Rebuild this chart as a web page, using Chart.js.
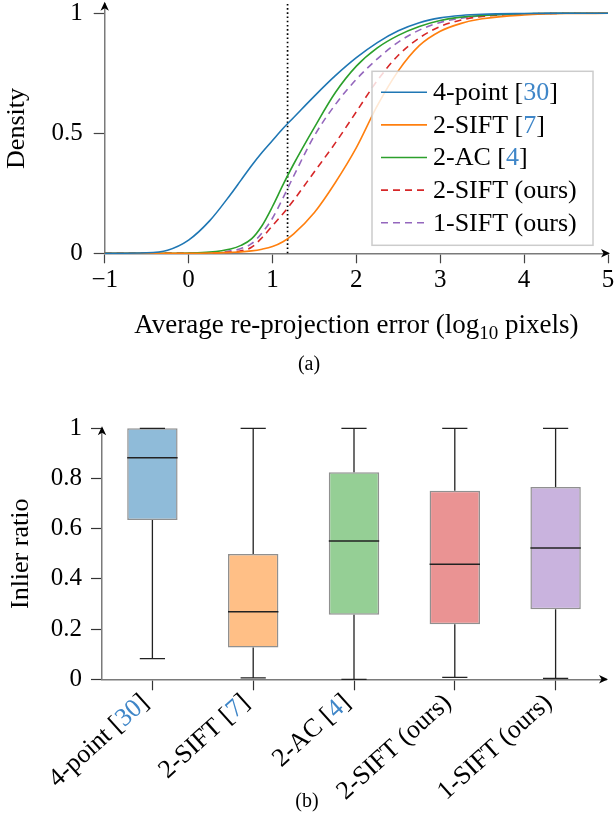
<!DOCTYPE html>
<html><head><meta charset="utf-8">
<script src="https://cdn.jsdelivr.net/npm/chart.js@4.4.1/dist/chart.umd.min.js"></script>
<style>
html,body{margin:0;padding:0;background:#fff;}
#wrap{position:relative;width:614px;height:828px;overflow:hidden;}
#c1{position:absolute;left:0;top:0;}
#c2{position:absolute;left:0;top:400px;}
</style></head><body>
<div id="wrap">
<canvas id="c1" width="614" height="380"></canvas>
<canvas id="c2" width="614" height="428"></canvas>
</div>
<script>
// ---------- data ----------
const methods = ['4-point [30]', '2-SIFT [7]', '2-AC [4]', '2-SIFT (ours)', '1-SIFT (ours)'];

// (a) cumulative density of average re-projection error (log10 pixels)
const errorX      = [-1, -0.5, -0.25, 0, 0.25, 0.5, 0.625, 0.75, 0.875, 1, 1.125, 1.25, 1.5, 1.75, 2, 2.25, 2.5, 2.75, 3, 3.25, 3.5, 4, 4.5, 5];
const fourPoint   = [0, 0.002, 0.013, 0.055, 0.135, 0.245, 0.305, 0.365, 0.42, 0.47, 0.52, 0.565, 0.655, 0.74, 0.815, 0.878, 0.927, 0.961, 0.981, 0.991, 0.996, 0.999, 1, 1];
const twoSift7    = [0, 0, 0, 0, 0.001, 0.004, 0.006, 0.01, 0.017, 0.028, 0.048, 0.08, 0.17, 0.295, 0.44, 0.615, 0.76, 0.865, 0.925, 0.958, 0.977, 0.993, 0.999, 1];
const twoAC       = [0, 0, 0, 0.001, 0.005, 0.018, 0.033, 0.06, 0.115, 0.195, 0.285, 0.37, 0.525, 0.67, 0.78, 0.856, 0.908, 0.945, 0.97, 0.984, 0.991, 0.998, 1, 1];
const twoSiftOurs = [0, 0, 0, 0, 0.001, 0.005, 0.01, 0.025, 0.065, 0.115, 0.165, 0.22, 0.34, 0.46, 0.59, 0.72, 0.825, 0.897, 0.945, 0.972, 0.987, 0.997, 1, 1];
const oneSiftOurs = [0, 0, 0, 0, 0.002, 0.01, 0.02, 0.04, 0.085, 0.146, 0.23, 0.32, 0.49, 0.62, 0.725, 0.81, 0.88, 0.93, 0.962, 0.98, 0.99, 0.998, 1, 1];
const thresholdX  = 1.18;
const errorTicks  = [-1, 0, 1, 2, 3, 4, 5];
const densityTicks = [0, 0.5, 1];

// (b) inlier ratio box plot
const boxMin    = [0.082, 0.006, 0.0, 0.008, 0.004];
const boxQ1     = [0.635, 0.127, 0.257, 0.219, 0.279];
const boxMedian = [0.883, 0.269, 0.551, 0.458, 0.523];
const boxQ3     = [1.0, 0.499, 0.825, 0.751, 0.766];
const boxMax    = [1, 1, 1, 1, 1];
const ratioTicks = [0, 0.2, 0.4, 0.6, 0.8, 1];

// ---------- styles ----------
const FONT = "'Liberation Serif','Times New Roman',serif";
const CITE = '#3f86c8';
const lineColors = ['#1f77b4', '#ff7f0e', '#2ca02c', '#d62728', '#9467bd'];
const lineDashes = [[], [], [], [7, 5], [7, 5]];
const boxFill = ['#8fbbd9', '#ffbf86', '#95cf95', '#ea9393', '#c9b3de'];
const AXIS = '#7a7a7a';

function mixedSegments(text) {
  // "[30]" -> citation number drawn in link colour
  return text.split(/(\d+)(?=\])/).map((t, i) => ({t, c: i % 2 ? CITE : '#000'}));
}
function drawMixed(ctx, text, x, y, align) {
  const segs = mixedSegments(text);
  const total = segs.reduce((s, g) => s + ctx.measureText(g.t).width, 0);
  let cx = align === 'right' ? x - total : align === 'center' ? x - total / 2 : x;
  ctx.textAlign = 'left';
  segs.forEach(g => { ctx.fillStyle = g.c; ctx.fillText(g.t, cx, y); cx += ctx.measureText(g.t).width; });
}
function arrowHead(ctx, x, y, dir) {
  ctx.save();
  ctx.translate(x, y);
  if (dir === 'up') ctx.rotate(-Math.PI / 2);
  ctx.beginPath();
  ctx.moveTo(2, 0); ctx.lineTo(-7, -4.2); ctx.lineTo(-4.5, 0); ctx.lineTo(-7, 4.2); ctx.closePath();
  ctx.fillStyle = '#000'; ctx.fill();
  ctx.restore();
}
const tickFont = {family: FONT, size: 25};

// ---------- chart (a) ----------
const seriesValues = [fourPoint, twoSift7, twoAC, twoSiftOurs, oneSiftOurs];

const decorA = {
  id: 'decorA',
  beforeDatasetsDraw(chart) {
    const {ctx, scales: {x, y}} = chart;
    const px = x.getPixelForValue(thresholdX);
    ctx.save();
    ctx.strokeStyle = '#000'; ctx.lineWidth = 1.7; ctx.setLineDash([1.6, 2.6]);
    ctx.beginPath(); ctx.moveTo(px, y.getPixelForValue(0)); ctx.lineTo(px, chart.chartArea.top); ctx.stroke();
    ctx.restore();
  },
  afterDraw(chart) {
    const {ctx, chartArea: ca} = chart;
    ctx.save();
    arrowHead(ctx, ca.right, ca.bottom, 'right');
    arrowHead(ctx, ca.left, ca.top, 'up');
    // legend
    const lw = 221, lh = 174;
    const lx = ca.right - 15 - lw, ly = ca.bottom - 8 - lh;
    ctx.fillStyle = 'rgba(255,255,255,0.82)';
    ctx.fillRect(lx, ly, lw, lh);
    ctx.strokeStyle = '#cccccc'; ctx.lineWidth = 1.5;
    ctx.strokeRect(lx, ly, lw, lh);
    ctx.font = `26px ${FONT}`;
    ctx.textBaseline = 'middle';
    methods.forEach((m, i) => {
      const cy = ly + 21 + i * 32.6;
      ctx.strokeStyle = lineColors[i]; ctx.lineWidth = 1.6; ctx.setLineDash(lineDashes[i]);
      ctx.beginPath(); ctx.moveTo(lx + 9, cy); ctx.lineTo(lx + 55, cy); ctx.stroke();
      ctx.setLineDash([]);
      drawMixed(ctx, m, lx + 61, cy + 1, 'left');
    });
    // x-axis title with subscript
    const cx = (ca.left + ca.right) / 2, by = 333;
    const parts = [['Average re-projection error (log', 27, 0], ['10', 19, 6], [' pixels)', 27, 0]];
    let tw = 0;
    parts.forEach(p => { ctx.font = `${p[1]}px ${FONT}`; tw += ctx.measureText(p[0]).width; });
    let xx = cx - tw / 2;
    ctx.textBaseline = 'alphabetic'; ctx.textAlign = 'left'; ctx.fillStyle = '#000';
    parts.forEach(p => { ctx.font = `${p[1]}px ${FONT}`; ctx.fillText(p[0], xx, by + p[2]); xx += ctx.measureText(p[0]).width; });
    ctx.font = `20px ${FONT}`; ctx.textAlign = 'center';
    ctx.fillText('(a)', 309, 370);
    ctx.restore();
  }
};

new Chart(document.getElementById('c1'), {
  type: 'line',
  data: {
    datasets: methods.map((name, i) => ({
      label: name,
      data: errorX.map((xv, j) => ({x: xv, y: seriesValues[i][j]})),
      borderColor: lineColors[i],
      borderWidth: 1.6,
      borderDash: lineDashes[i],
      pointRadius: 0,
      fill: false,
      cubicInterpolationMode: 'monotone',
      clip: 4
    }))
  },
  options: {
    responsive: false, animation: false, events: [],
    layout: {padding: {top: 3.7, right: 6, left: 0, bottom: 0}},
    plugins: {legend: {display: false}, tooltip: {enabled: false}},
    scales: {
      x: {
        type: 'linear', min: -1, max: 5,
        afterBuildTicks: s => { s.ticks = errorTicks.map(v => ({value: v})); },
        ticks: {font: tickFont, color: '#000', padding: 2, maxRotation: 0,
                callback: v => (v < 0 ? '\u2212' + Math.abs(v) : String(v))},
        grid: {drawOnChartArea: false, drawTicks: true, tickLength: 10, tickColor: '#444', tickWidth: 1.2},
        border: {color: AXIS, width: 1.5},
        afterFit: s => { s.height = 380 - 253.3; s.paddingLeft = 0; s.paddingRight = 0; }
      },
      y: {
        min: 0, max: 1.04,
        afterBuildTicks: s => { s.ticks = densityTicks.map(v => ({value: v})); },
        ticks: {font: tickFont, color: '#000', padding: 11, callback: v => String(v)},
        grid: {drawOnChartArea: false, drawTicks: true, tickLength: 11, tickColor: '#444', tickWidth: 1.2},
        border: {color: AXIS, width: 1.5},
        title: {display: true, text: 'Density', color: '#000', font: {family: FONT, size: 26}, padding: {top: 2, bottom: 0}},
        afterFit: s => { s.width = 104.7; s.paddingTop = 0; s.paddingBottom = 0; }
      }
    }
  },
  plugins: [decorA]
});

// ---------- chart (b) ----------
const decorB = {
  id: 'decorB',
  afterDatasetsDraw(chart) {
    const {ctx, scales: {x, y}} = chart;
    const step = x.getPixelForValue(1) - x.getPixelForValue(0);
    const half = step * 0.25, cap = step * 0.125;
    ctx.save();
    methods.forEach((m, i) => {
      const cx = x.getPixelForValue(i);
      ctx.strokeStyle = '#222'; ctx.lineWidth = 1.3;
      ctx.beginPath();
      ctx.moveTo(cx, y.getPixelForValue(boxQ3[i])); ctx.lineTo(cx, y.getPixelForValue(boxMax[i]));
      ctx.moveTo(cx, y.getPixelForValue(boxQ1[i])); ctx.lineTo(cx, y.getPixelForValue(boxMin[i]));
      ctx.moveTo(cx - cap, y.getPixelForValue(boxMax[i])); ctx.lineTo(cx + cap, y.getPixelForValue(boxMax[i]));
      ctx.moveTo(cx - cap, y.getPixelForValue(boxMin[i])); ctx.lineTo(cx + cap, y.getPixelForValue(boxMin[i]));
      ctx.stroke();
      ctx.strokeStyle = '#222'; ctx.lineWidth = 1.5;
      ctx.beginPath();
      ctx.moveTo(cx - half, y.getPixelForValue(boxMedian[i])); ctx.lineTo(cx + half, y.getPixelForValue(boxMedian[i]));
      ctx.stroke();
    });
    ctx.restore();
  },
  afterDraw(chart) {
    const {ctx, chartArea: ca, scales: {x}} = chart;
    ctx.save();
    arrowHead(ctx, ca.right, ca.bottom, 'right');
    arrowHead(ctx, ca.left, ca.top, 'up');
    ctx.font = `26px ${FONT}`;
    ctx.textBaseline = 'middle';
    const ang = -42 * Math.PI / 180;
    methods.forEach((m, i) => {
      const tx = x.getPixelForValue(i);
      ctx.save();
      ctx.translate(tx - 7, ca.bottom + 20);
      ctx.rotate(ang);
      drawMixed(ctx, m, 0, 0, 'right');
      ctx.restore();
    });
    ctx.font = `20px ${FONT}`; ctx.textAlign = 'center'; ctx.textBaseline = 'alphabetic'; ctx.fillStyle = '#000';
    ctx.fillText('(b)', 307, 407);
    ctx.restore();
  }
};

new Chart(document.getElementById('c2'), {
  type: 'bar',
  data: {
    labels: methods,
    datasets: [{
      data: boxQ1.map((q, i) => [q, boxQ3[i]]),
      backgroundColor: boxFill,
      borderColor: 'rgba(125,125,125,0.85)',
      borderWidth: 1.5,
      borderSkipped: false,
      barPercentage: 0.5,
      categoryPercentage: 1,
      clip: false
    }]
  },
  options: {
    responsive: false, animation: false, events: [],
    layout: {padding: {top: 28.3, right: 8, left: 0, bottom: 0}},
    plugins: {legend: {display: false}, tooltip: {enabled: false}},
    scales: {
      x: {
        offset: true,
        ticks: {font: tickFont, color: 'rgba(0,0,0,0)', maxRotation: 0, minRotation: 0, autoSkip: false},
        grid: {offset: false, drawOnChartArea: false, drawTicks: true, tickLength: 11, tickColor: '#333', tickWidth: 1.2},
        border: {color: AXIS, width: 1.5},
        afterFit: s => { s.height = 428 - 279.3; s.paddingLeft = 0; s.paddingRight = 0; }
      },
      y: {
        min: 0, max: 1,
        afterBuildTicks: s => { s.ticks = ratioTicks.map(v => ({value: v})); },
        ticks: {font: tickFont, color: '#000', padding: 9, callback: v => String(v)},
        grid: {drawOnChartArea: false, drawTicks: true, tickLength: 11, tickColor: '#333', tickWidth: 1.2},
        border: {color: AXIS, width: 1.5},
        title: {display: true, text: 'Inlier ratio', color: '#000', font: {family: FONT, size: 26}, padding: {top: 6, bottom: 0}},
        afterFit: s => { s.width = 102; s.paddingTop = 0; s.paddingBottom = 0; }
      }
    }
  },
  plugins: [decorB]
});
</script>
</body></html>
